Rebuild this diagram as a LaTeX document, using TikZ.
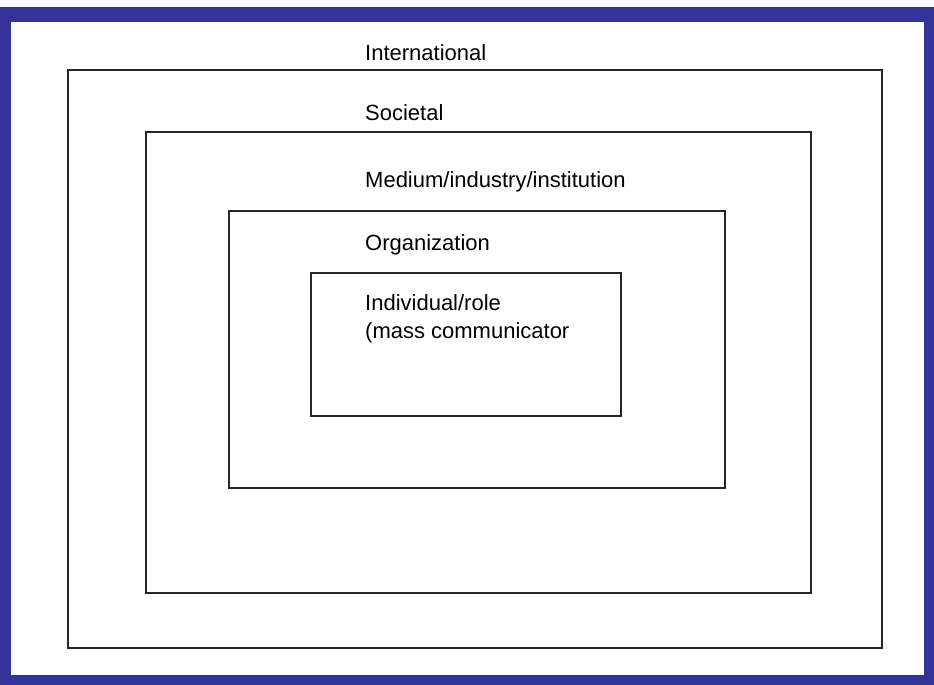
\documentclass[tikz,border=0pt]{standalone}
\usepackage{fontspec}
\setmainfont{Liberation Sans}
\definecolor{frameblue}{HTML}{333399}
\begin{document}
\begin{tikzpicture}[x=1pt,y=-1pt,
  layer/.style={draw=black!85,line width=2pt},
  lbl/.style={anchor=base west,inner sep=0pt,font=\fontsize{22}{28}\selectfont}]
\useasboundingbox (0,0) rectangle (934,685);
\fill[white] (0,0) rectangle (934,685);
\fill[frameblue] (0,7) rectangle (934,685);
\fill[white] (11,22) rectangle (924,675);
\draw[layer] (68,70) rectangle (882,648);
\draw[layer] (146,132) rectangle (811,593);
\draw[layer] (229,211) rectangle (725,488);
\draw[layer] (311,273) rectangle (621,416);
\node[lbl] (intl) at (365,60) {International};
\node[lbl] (soc) at (365,120) {Societal};
\node[lbl] (med) at (365,187) {Medium/industry/institution};
\node[lbl] (org) at (365,250) {Organization};
\node[lbl] (ind) at (365,310) {Individual/role};
\node[lbl] (mass) at (365,338) {(mass communicator};
\end{tikzpicture}
\end{document}
